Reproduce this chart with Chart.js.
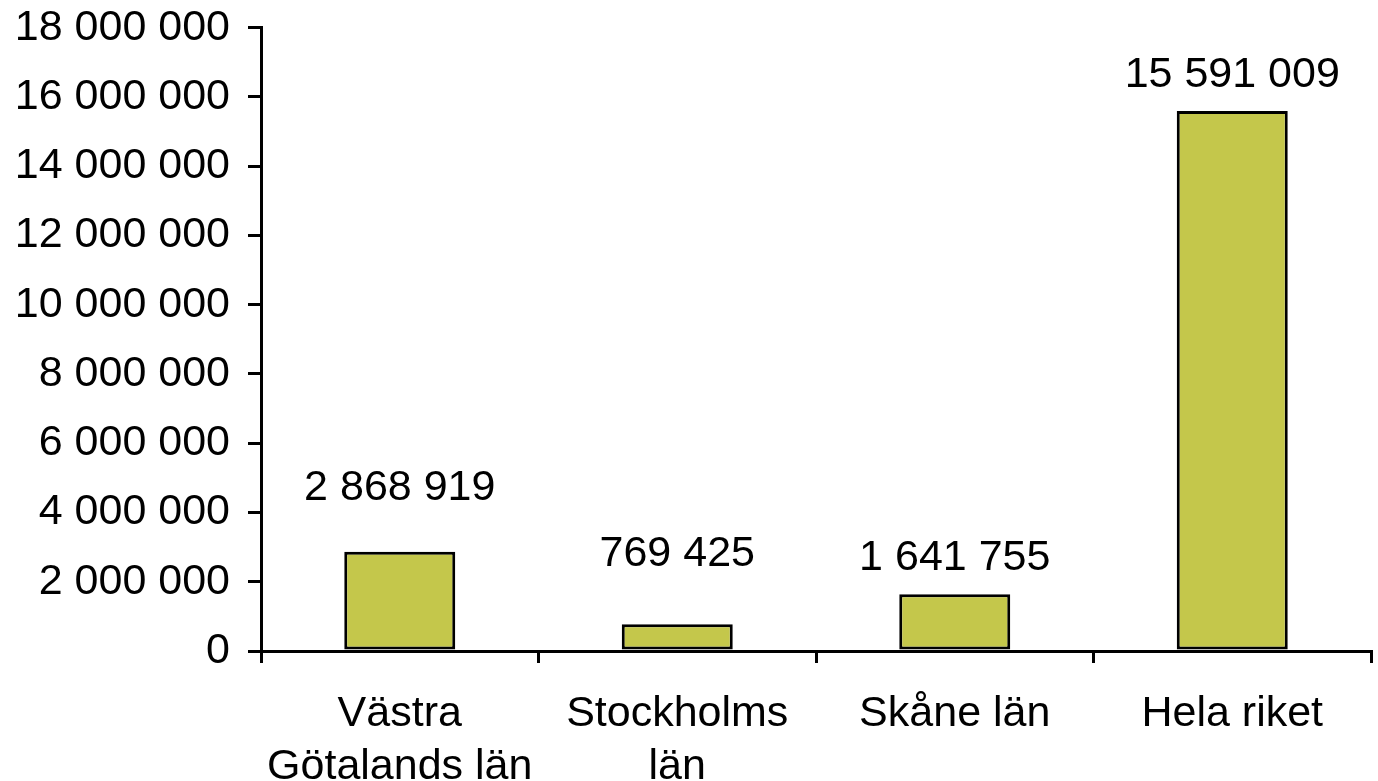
<!DOCTYPE html>
<html>
<head>
<meta charset="utf-8">
<script src="https://cdn.jsdelivr.net/npm/chart.js@4"></script>
<style>
  html, body { margin: 0; padding: 0; background: #fff; }
  #wrap { width: 1378px; height: 781px; }
</style>
</head>
<body>
<div id="wrap"><canvas id="bar-chart"></canvas></div>
<script>
const categories = [["Västra", "Götalands län"], ["Stockholms", "län"], "Skåne län", "Hela riket"];
const values = [2868919, 769425, 1641755, 15591009];
const yTicks = [0, 2000000, 4000000, 6000000, 8000000, 10000000, 12000000, 14000000, 16000000, 18000000];

// distance of each value label above its bar (px)
const labelOffsets = [64, 70, 36, 36];

function fmt(n) {
  return String(n).replace(/\B(?=(\d{3})+(?!\d))/g, ' ');
}

const valueLabels = {
  id: 'valueLabels',
  afterDatasetsDraw(chart) {
    const ctx = chart.ctx;
    const meta = chart.getDatasetMeta(0);
    ctx.save();
    ctx.font = '43px "Liberation Sans", Arial, sans-serif';
    ctx.fillStyle = '#000';
    ctx.textAlign = 'center';
    ctx.textBaseline = 'middle';
    meta.data.forEach((bar, i) => {
      ctx.fillText(fmt(values[i]), bar.x, bar.y - labelOffsets[i]);
    });
    ctx.restore();
  }
};

const barCanvas = document.getElementById('bar-chart');

let barChart = new Chart(barCanvas, {
  type: 'bar',
  data: {
    labels: categories,
    datasets: [{
      data: values,
      backgroundColor: '#C4C74B',
      borderColor: '#000',
      borderWidth: 3,
      borderSkipped: false,
      categoryPercentage: 1,
      barPercentage: 0.4
    }]
  },
  options: {
    responsive: true,
    maintainAspectRatio: false,
    animation: { duration: 0 },
    layout: { padding: { top: 0, right: 7, left: 0, bottom: 0 } },
    plugins: {
      legend: { display: false },
      tooltip: { enabled: false }
    },
    scales: {
      x: {
        grid: { drawOnChartArea: false, color: '#000', lineWidth: 3, tickLength: 12, offset: true },
        border: { color: '#000', width: 3 },
        ticks: {
          color: '#000',
          padding: 25,
          maxRotation: 0,
          font: { family: '"Liberation Sans", Arial, sans-serif', size: 43, lineHeight: 1.22 }
        },
        afterFit(scale) { scale.height = 130; }
      },
      y: {
        min: 0,
        max: 18000000,
        afterBuildTicks(scale) { scale.ticks = yTicks.map(v => ({ value: v })); },
        grid: { drawOnChartArea: false, color: '#000', lineWidth: 3, tickLength: 13 },
        border: { color: '#000', width: 3 },
        ticks: {
          color: '#000',
          padding: 18,
          font: { family: '"Liberation Sans", Arial, sans-serif', size: 43, lineHeight: 0.45 },
          callback: v => fmt(v)
        },
        afterFit(scale) { scale.width = 261; }
      }
    }
  },
  plugins: [valueLabels]
});
</script>
</body>
</html>
